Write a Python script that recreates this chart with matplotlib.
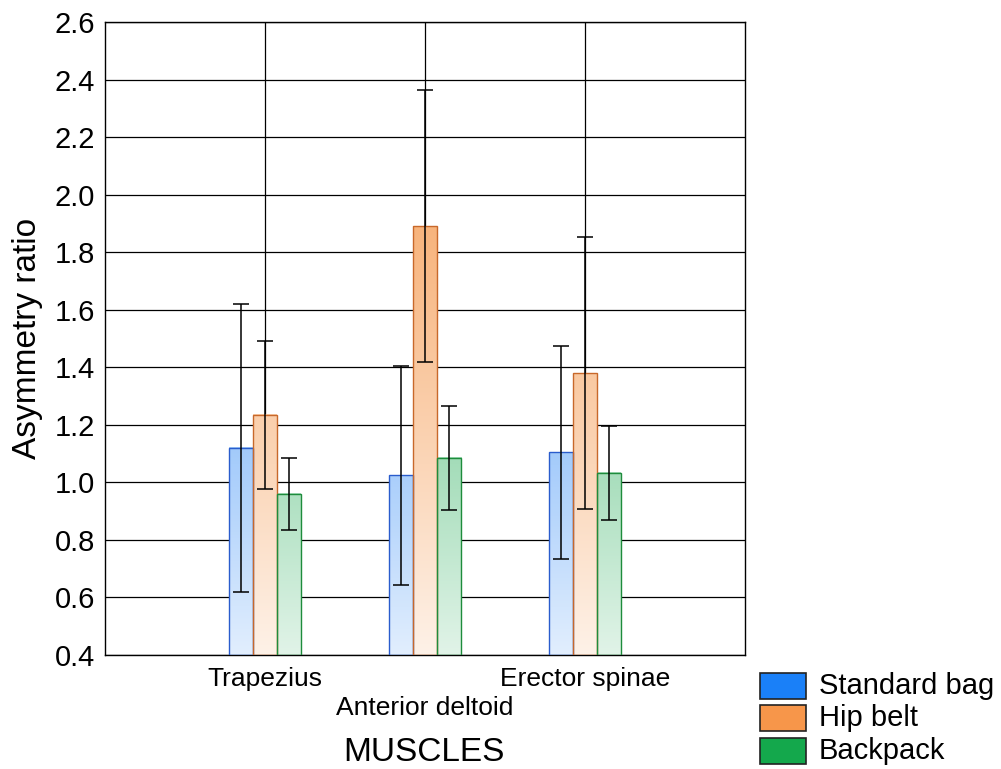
import numpy as np
import matplotlib
matplotlib.use("Agg")
import matplotlib.pyplot as plt
from matplotlib.patches import Rectangle

plt.rcParams['font.family'] = ['Liberation Sans', 'DejaVu Sans']

# Data: mean asymmetry ratio and standard deviation per muscle and carrying mode
muscles = ["Trapezius", "Anterior deltoid", "Erector spinae"]
series = ["Standard bag", "Hip belt", "Backpack"]
standard_mean = [1.12, 1.025, 1.105]
standard_sd = [0.50, 0.38, 0.37]
hipbelt_mean = [1.235, 1.89, 1.38]
hipbelt_sd = [0.258, 0.473, 0.472]
backpack_mean = [0.96, 1.085, 1.033]
backpack_sd = [0.125, 0.182, 0.164]
yticks = [0.4, 0.6, 0.8, 1.0, 1.2, 1.4, 1.6, 1.8, 2.0, 2.2, 2.4, 2.6]

means = [standard_mean, hipbelt_mean, backpack_mean]
sds = [standard_sd, hipbelt_sd, backpack_sd]
base_colors = [(0.12, 0.50, 0.96), (0.96, 0.59, 0.29), (0.10, 0.66, 0.31)]
edge_colors = ["#2a5ccc", "#c8682a", "#1e8c3c"]
legend_colors = ["#1a80f8", "#f7964a", "#14a84c"]

W, H = 1001, 769
fig = plt.figure(figsize=(W / 100, H / 100), dpi=100)
ax = fig.add_axes([105 / W, 1 - 655 / H, 640 / W, 633 / H])

ymin, ymax = 0.4, 2.6
ax.set_xlim(0, 4)
ax.set_ylim(ymin, ymax)

bar_w = 0.15
x = np.arange(1, len(muscles) + 1)


def gradient_image(color, top):
    ys = np.linspace(ymin, top, 200)
    alpha = 0.13 + 0.87 * (ys - ymin) / (ymax - ymin)
    rgb = np.array(color)[None, :]
    img = 1 - alpha[:, None] * (1 - rgb)
    return img[:, None, :]


for i, (m, s) in enumerate(zip(means, sds)):
    for j, xc in enumerate(x):
        xpos = xc + (i - 1) * bar_w
        x0, x1 = xpos - bar_w / 2, xpos + bar_w / 2
        ax.imshow(gradient_image(base_colors[i], m[j]), extent=(x0, x1, ymin, m[j]),
                  origin='lower', aspect='auto', zorder=2, interpolation='bilinear')
    pos = x + (i - 1) * bar_w
    ax.bar(pos, np.array(m) - ymin, bottom=ymin, width=bar_w, facecolor='none',
           edgecolor=edge_colors[i], linewidth=1.0, zorder=3)
    ax.errorbar(pos, m, yerr=s, fmt='none', ecolor='black', elinewidth=1.1,
                capsize=6.1, capthick=1.1, zorder=4)

ax.set_xlim(0, 4)
ax.set_ylim(ymin, ymax)
ax.set_yticks(yticks)
ax.set_yticklabels([f"{v:.1f}" for v in yticks], fontsize=21)
ax.set_xticks(x)
ax.set_xticklabels([])
ax.grid(True, color='black', linewidth=0.9, zorder=0)
ax.set_axisbelow(True)
ax.tick_params(axis='y', direction='in', length=0, pad=7)
ax.tick_params(axis='x', direction='in', length=4, width=1, color='black')
for sp in ax.spines.values():
    sp.set_linewidth(1.0)
    sp.set_color('black')


def px(xp, yp):
    return xp / W, 1 - yp / H


# Staggered category labels under the axis
label_rows = [686, 715, 686]
for xc, name, yb in zip(x, muscles, label_rows):
    xp = 105 + xc / 4 * 640
    fig.text(*px(xp, yb), name, ha='center', va='baseline', fontsize=19)

fig.text(*px(424, 761), "MUSCLES", ha='center', va='baseline', fontsize=24)
fig.text(*px(28, 338.5), "Asymmetry ratio", ha='center', va='center',
         rotation=90, fontsize=24)

# Legend drawn in figure pixels
rows = [686, 718, 751]
for name, col, yc in zip(series, legend_colors, rows):
    x0, y0 = px(760, yc + 13)
    fig.patches.append(Rectangle((x0, y0), 46 / W, 26 / H, transform=fig.transFigure,
                                 facecolor=col, edgecolor='#222222', linewidth=1.2))
    fig.text(*px(819, yc), name, ha='left', va='center', fontsize=21)

fig.savefig("out.png", dpi=100)
